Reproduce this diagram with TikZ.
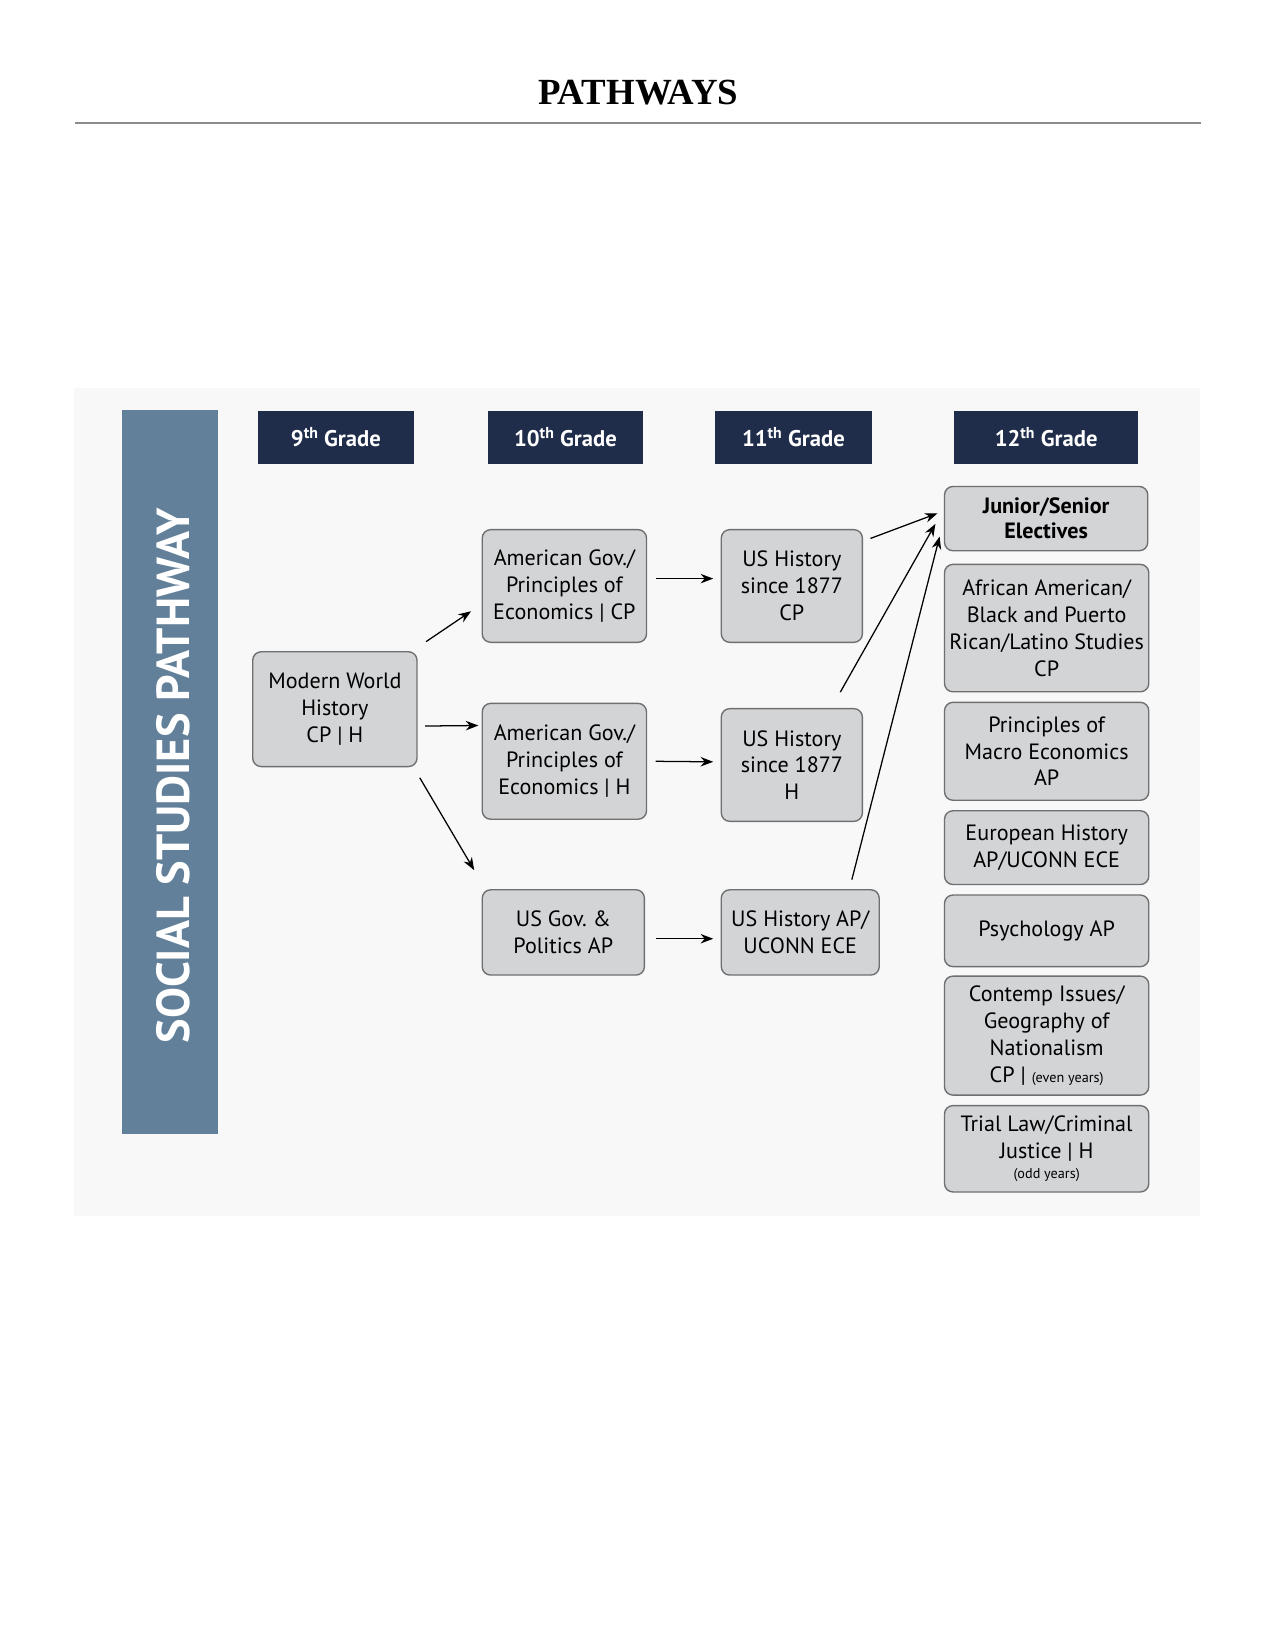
\documentclass[tikz,border=0pt]{standalone}
\usepackage{fontspec}
\setmainfont{PT Sans}
\newfontfamily\titlefont{Liberation Serif}
\usetikzlibrary{arrows.meta,calc}
\definecolor{navy}{HTML}{1F2D4B}
\definecolor{slate}{HTML}{62809A}
\definecolor{boxfill}{HTML}{D3D4D6}
\definecolor{boxline}{HTML}{6E6F71}
\definecolor{panel}{HTML}{F8F8F8}
\definecolor{rulegray}{HTML}{8C8C8C}
\begin{document}
\begin{tikzpicture}[x=1pt,y=-1pt,
  course/.style={draw=boxline, line width=1.3pt, fill=boxfill, rounded corners=8pt, inner sep=0pt, align=center, font=\fontsize{21}{25.5}\selectfont},
  grade/.style={fill=navy, text=white, inner sep=0pt, minimum height=51pt, font=\bfseries\fontsize{21.5}{24}\selectfont},
  arr/.style={-{Stealth[length=12pt,width=9pt]}, line width=1.2pt, black}]
\useasboundingbox (0,0) rectangle (1211,1567);
\fill[white] (0,0) rectangle (1211,1567);
% title
\node[font=\titlefont\bfseries\fontsize{35}{40}\selectfont, anchor=base] (title) at (606,99) {PATHWAYS};
\draw[rulegray, line width=1.6pt] (71,117) -- (1141,117);
% panel
\fill[panel] (70,368) rectangle (1140,1155);
% side bar
\fill[slate] (116,389) rectangle (207,1077);
\node[rotate=90, text=white, font=\bfseries\fontsize{44}{48}\selectfont] (bar) at (165,737) {SOCIAL STUDIES PATHWAY};
% grade headers
\node[grade, minimum width=148pt] (g9) at (319,415.5) {9\textsuperscript{th} Grade};
\node[grade, minimum width=148pt] (g10) at (537,415.5) {10\textsuperscript{th} Grade};
\node[grade, minimum width=149pt] (g11) at (753.5,415.5) {11\textsuperscript{th} Grade};
\node[grade, minimum width=175pt] (g12) at (993.5,415.5) {12\textsuperscript{th} Grade};
% courses
\node[course, minimum width=156pt, minimum height=109pt] (mwh) at (318,673.5) {Modern World\\History\\CP | H};
\node[course, minimum width=156pt, minimum height=107pt] (agcp) at (536,556.5) {American Gov./\\Principles of\\Economics | CP};
\node[course, minimum width=156pt, minimum height=110pt] (agh) at (536,723) {American Gov./\\Principles of\\Economics | H};
\node[course, minimum width=154pt, minimum height=81pt] (usgov) at (535,885.5) {US Gov.\ \&\\Politics AP};
\node[course, minimum width=134pt, minimum height=107pt] (ushcp) at (752,556.5) {US History\\since 1877\\CP};
\node[course, minimum width=134pt, minimum height=107pt] (ushh) at (752,726.5) {US History\\since 1877\\H};
\node[course, minimum width=150pt, minimum height=81pt] (ushap) at (760,885.5) {US History AP/\\UCONN ECE};
% 12th grade
\node[course, minimum width=193pt, minimum height=61pt, font=\bfseries\fontsize{21}{24}\selectfont] (js) at (993.5,492.5) {Junior/Senior\\Electives};
\node[course, minimum width=194pt, minimum height=121pt] (aa) at (994,596.5) {African American/\\Black and Puerto\\Rican/Latino Studies\\CP};
\node[course, minimum width=194pt, minimum height=93pt] (macro) at (994,713.5) {Principles of\\Macro Economics\\AP};
\node[course, minimum width=194pt, minimum height=70pt] (euro) at (994,805) {European History\\AP/UCONN ECE};
\node[course, minimum width=194pt, minimum height=68pt] (psych) at (994,884) {Psychology AP};
\node[course, minimum width=194pt, minimum height=113pt] (contemp) at (994,983.5) {Contemp Issues/\\Geography of\\Nationalism\\CP | {\fontsize{13.5}{15}\selectfont (even years)}};
\node[course, minimum width=194pt, minimum height=82pt] (trial) at (994,1091) {Trial Law/Criminal\\Justice | H\\[-7pt]{\fontsize{13.5}{15}\selectfont (odd years)}};
% arrows
\draw[arr] ([shift={(8,-9)}]mwh.north east) -- ([shift={(-10,24)}]agcp.west);
\draw[arr] ([shift={(7,16)}]mwh.east) -- ([shift={(-3,-34)}]agh.west);
\draw[arr] ([shift={(2,10)}]mwh.south east) -- ([shift={(-7,-18)}]usgov.north west);
\draw[arr] ([shift={(8,-7)}]agcp.east) -- ([shift={(-7,-7)}]ushcp.west);
\draw[arr] ([shift={(8,0)}]agh.east) -- ([shift={(-7,-3)}]ushh.west);
\draw[arr] ([shift={(10,6)}]usgov.east) -- ([shift={(-7,6)}]ushap.west);
\draw[arr] ([shift={(7,9)}]ushcp.north east) -- ([shift={(-6,-5)}]js.west);
\draw[arr] ([shift={(46,-15)}]ushh.north) -- ([shift={(-8,5)}]js.west);
\draw[arr] ([shift={(49,-9)}]ushap.north) -- ([shift={(-4,17)}]js.west);
\end{tikzpicture}
\end{document}
